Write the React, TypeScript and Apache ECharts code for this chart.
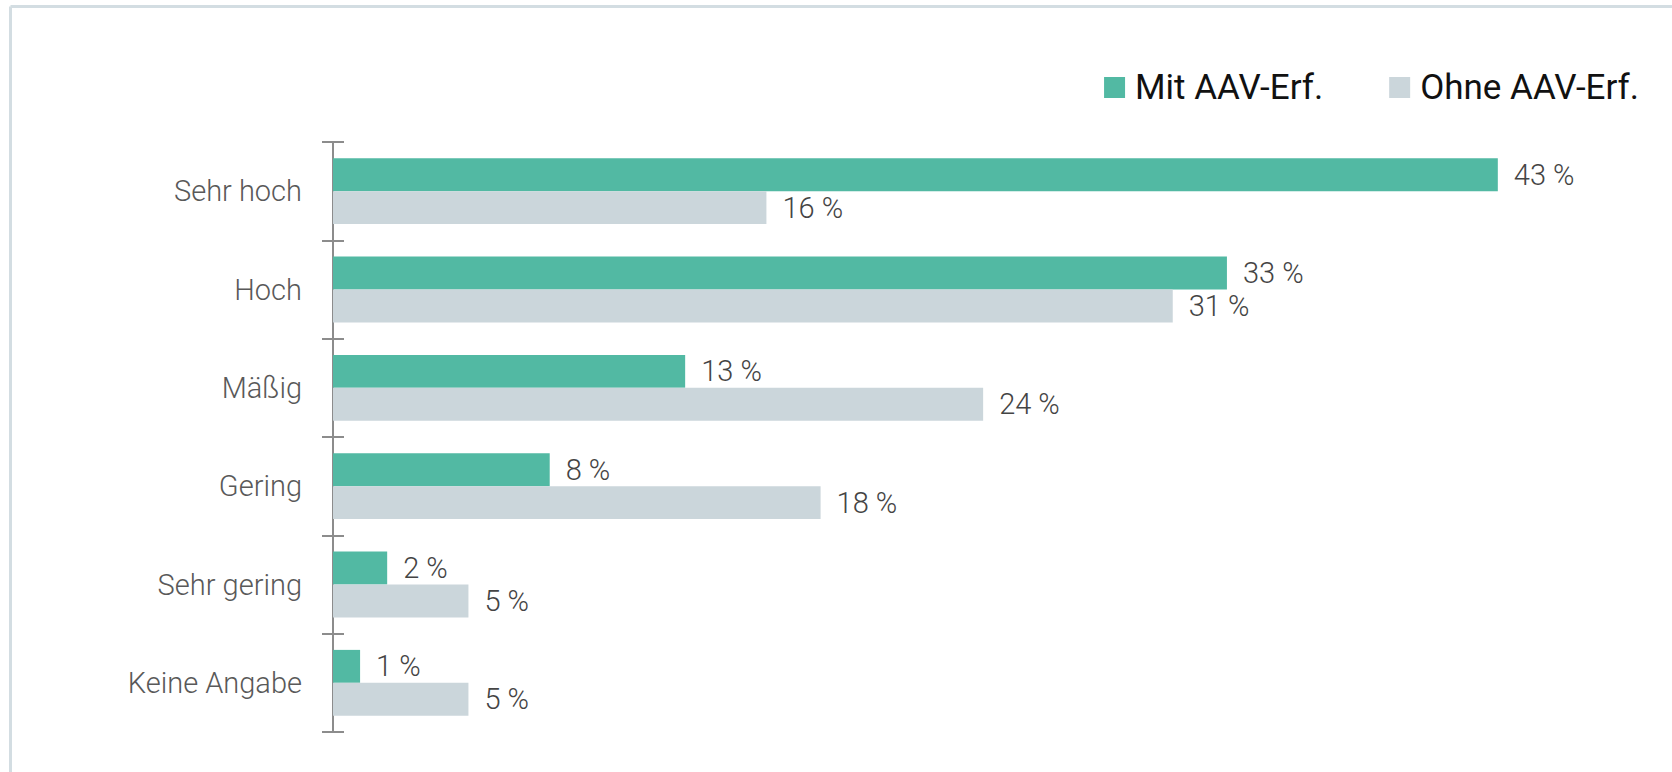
import React, { useEffect, useRef } from "react";
import * as echarts from "echarts";

const categories = ["Sehr hoch", "Hoch", "Mäßig", "Gering", "Sehr gering", "Keine Angabe"];
const mitValues = [43, 33, 13, 8, 2, 1];
const ohneValues = [16, 31, 24, 18, 5, 5];
const seriesNames = ["Mit AAV-Erf.", "Ohne AAV-Erf."];

const GREEN = "#52b9a3";
const GREY = "#cbd6db";
const FONT = "Roboto";

export default function App() {
  const ref = useRef<HTMLDivElement>(null);
  useEffect(() => {
    if (!ref.current) return;
    const chart = echarts.init(ref.current, null, { renderer: "svg" });
    const valueLabel = {
      show: true,
      position: "right",
      distance: 16,
      formatter: (p: any) => `${p.value} %`,
      color: "#444",
      fontSize: 29,
      fontFamily: FONT,
      fontWeight: 300,
    };
    const axisLine = { show: true, lineStyle: { color: "#8c8c8c", width: 2 } };
    chart.setOption({
      animation: false,
      backgroundColor: "#fff",
      graphic: [
        { type: "line", shape: { x1: 10.5, y1: 6.5, x2: 1672, y2: 6.5 }, style: { stroke: "#d3dde2", lineWidth: 3 } },
        { type: "line", shape: { x1: 10.5, y1: 6.5, x2: 10.5, y2: 772 }, style: { stroke: "#d3dde2", lineWidth: 3 } },
      ],
      legend: {
        right: 28,
        top: 65,
        itemWidth: 21,
        itemHeight: 21,
        itemGap: 66,
        icon: "rect",
        textStyle: { fontSize: 35, fontFamily: FONT, color: "#111", lineHeight: 35, padding: [0, 0, 0, 5] },
        data: seriesNames,
      },
      grid: { left: 333, right: 120, top: 142, bottom: 40, containLabel: false },
      xAxis: { type: "value", min: 0, max: 45, show: false },
      yAxis: [
        {
          type: "category",
          data: categories,
          inverse: true,
          axisLine,
          axisTick: { show: true, inside: false, length: 11, lineStyle: { color: "#8c8c8c", width: 2 } },
          axisLabel: { margin: 31, fontSize: 29, fontFamily: FONT, fontWeight: 300, color: "#595959" },
        },
        {
          type: "category",
          data: categories,
          inverse: true,
          position: "left",
          axisLine,
          axisTick: { show: true, inside: true, length: 11, lineStyle: { color: "#8c8c8c", width: 2 } },
          axisLabel: { show: false },
        },
      ],
      series: [
        {
          name: seriesNames[0],
          type: "bar",
          data: mitValues,
          yAxisIndex: 0,
          barGap: "0%",
          barCategoryGap: "33%",
          itemStyle: { color: GREEN },
          label: valueLabel,
        },
        {
          name: seriesNames[1],
          type: "bar",
          data: ohneValues,
          yAxisIndex: 0,
          barGap: "0%",
          barCategoryGap: "33%",
          itemStyle: { color: GREY },
          label: valueLabel,
        },
      ],
    });
    return () => chart.dispose();
  }, []);
  return (
    <div
      ref={ref}
      style={{ position: "fixed", left: 0, top: 0, width: 1672, height: 772 }}
    />
  );
}
